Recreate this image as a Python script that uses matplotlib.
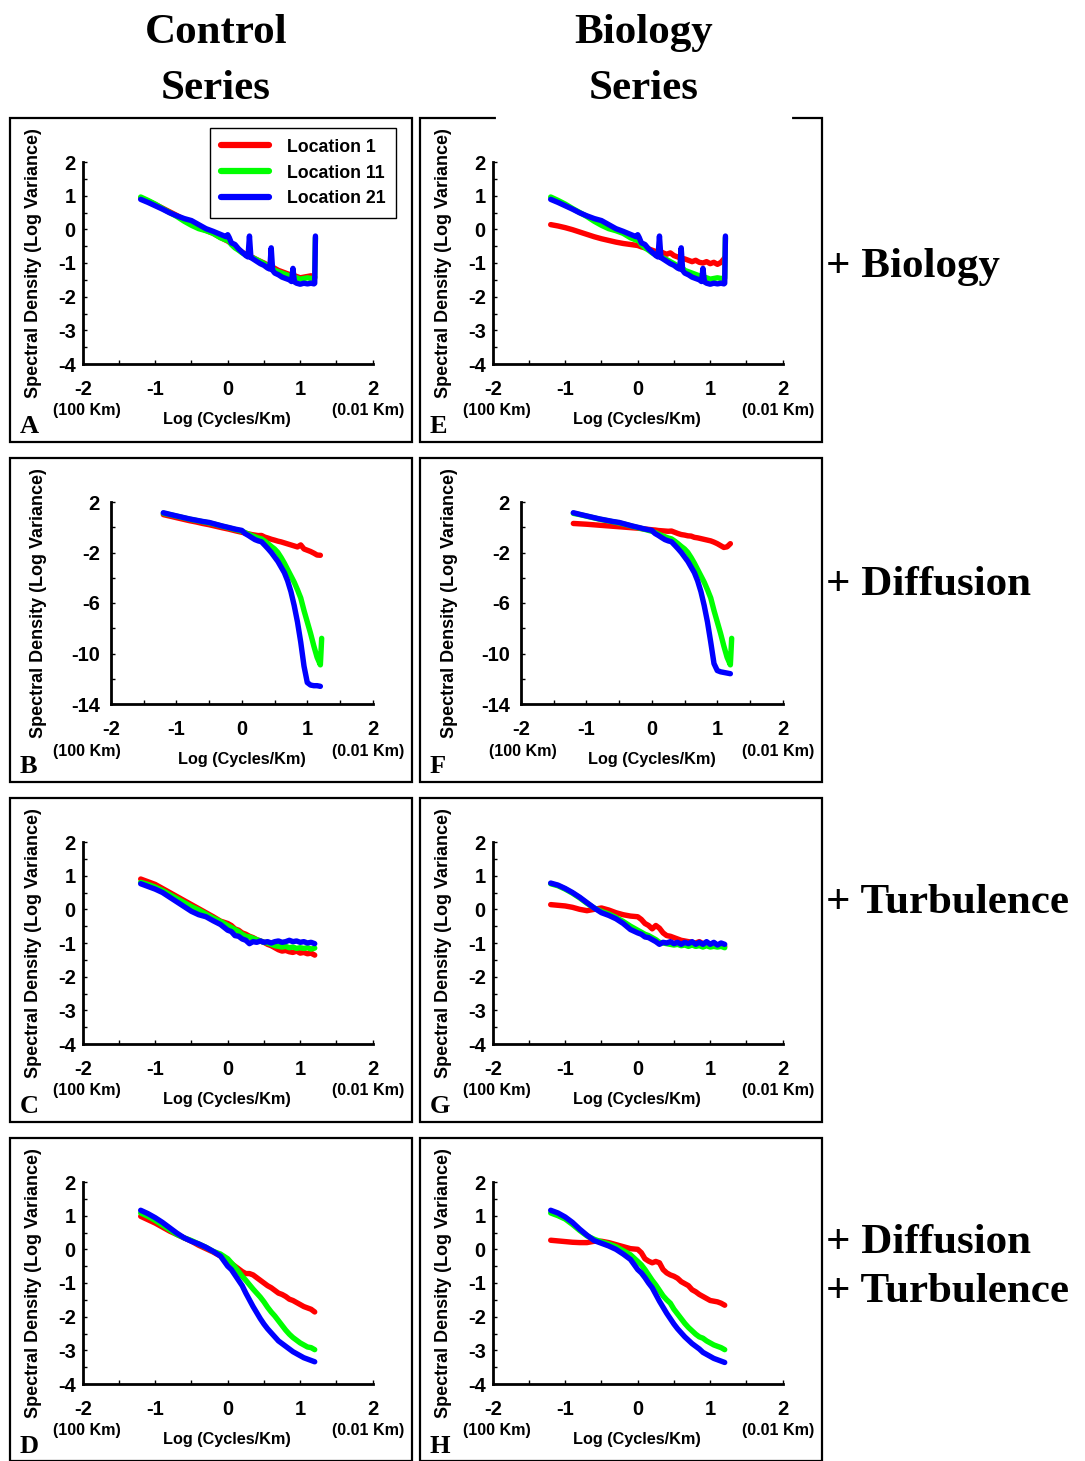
import numpy as np
import matplotlib
matplotlib.use('Agg')
import matplotlib.pyplot as plt
from matplotlib.patches import Rectangle
from matplotlib.lines import Line2D

plt.rcParams['font.family'] = ['Liberation Sans', 'DejaVu Sans']
plt.rcParams['font.weight'] = 'bold'
plt.rcParams['axes.unicode_minus'] = False

# frequency grid, log10(cycles/km)
X = [-1.2, -1.1, -1.0, -0.9, -0.8, -0.7, -0.6, -0.5, -0.4, -0.3, -0.2, -0.1,
     0.0, 0.05, 0.1, 0.15, 0.2, 0.25, 0.3, 0.35, 0.4, 0.45, 0.5, 0.55, 0.6,
     0.65, 0.7, 0.75, 0.8, 0.85, 0.9, 0.95, 1.0, 1.05, 1.1, 1.15, 1.2]
X_END = X + [1.22]
# grid with the narrow spikes of the biology-free runs
X_SPK = [-1.2, -1.1, -1.0, -0.9, -0.8, -0.7, -0.6, -0.5, -0.4, -0.3, -0.2, -0.1,
         -0.02, 0.0, 0.02, 0.05, 0.1, 0.15, 0.2, 0.25, 0.28, 0.3, 0.32, 0.35,
         0.4, 0.45, 0.5, 0.55, 0.58, 0.6, 0.62, 0.65, 0.7, 0.75, 0.8, 0.85,
         0.88, 0.9, 0.92, 0.95, 1.0, 1.05, 1.1, 1.15, 1.19, 1.2, 1.21]

series_labels = ['Location 1', 'Location 11', 'Location 21']

# A: control
a_red = [0.93, 0.84, 0.74, 0.63, 0.52, 0.41, 0.29, 0.16, 0.05, -0.03, -0.12, -0.24,
         -0.35, -0.42, -0.52, -0.60, -0.68, -0.74, -0.80, -0.84, -0.90, -0.95, -1.00,
         -1.06, -1.10, -1.16, -1.22, -1.26, -1.30, -1.34, -1.36, -1.40, -1.44, -1.42,
         -1.40, -1.38, -1.42]
a_green = [0.96, 0.86, 0.75, 0.62, 0.50, 0.38, 0.24, 0.12, 0.02, -0.04, -0.12, -0.25,
           -0.32, -0.30, -0.36, -0.45, -0.55, -0.62, -0.70, -0.76, -0.80, -0.78, -0.82,
           -0.85, -0.90, -0.96, -1.02, -1.08, -1.12, -1.10, -1.16, -1.22, -1.26, -1.30,
           -1.34, -1.38, -1.40, -1.40, -1.42, -1.44, -1.48, -1.46, -1.44, -1.46, -1.45,
           -1.45, -0.25]
a_blue = [0.89, 0.80, 0.70, 0.60, 0.49, 0.40, 0.32, 0.26, 0.14, 0.02, -0.06, -0.15,
          -0.22, -0.16, -0.24, -0.40, -0.45, -0.58, -0.68, -0.78, -0.82, -0.20, -0.84,
          -0.88, -0.95, -1.02, -1.07, -1.15, -1.18, -0.55, -1.22, -1.30, -1.35, -1.42,
          -1.46, -1.50, -1.55, -1.16, -1.56, -1.60, -1.63, -1.60, -1.62, -1.60, -1.62,
          -1.60, -0.20]

# E: + biology
e_red = [0.14, 0.10, 0.05, -0.01, -0.08, -0.15, -0.22, -0.28, -0.33, -0.38, -0.42, -0.45,
         -0.48, -0.52, -0.55, -0.58, -0.62, -0.66, -0.64, -0.70, -0.74, -0.70, -0.78,
         -0.82, -0.86, -0.88, -0.92, -0.96, -0.92, -0.98, -1.00, -0.96, -1.02, -0.98,
         -1.04, -0.98, -0.85]
e_green = a_green
e_blue = a_blue

# B: + diffusion
b_red = [1.00, 0.88, 0.76, 0.64, 0.52, 0.42, 0.30, 0.20, 0.08, -0.04, -0.15, -0.28,
         -0.40, -0.46, -0.52, -0.58, -0.62, -0.66, -0.65, -0.78, -0.86, -0.95, -1.02,
         -1.10, -1.16, -1.24, -1.32, -1.40, -1.48, -1.56, -1.40, -1.72, -1.82, -1.92,
         -2.05, -2.20, -2.22]
b_green = [1.10, 1.00, 0.88, 0.76, 0.64, 0.54, 0.44, 0.34, 0.22, 0.08, -0.05, -0.18,
           -0.32, -0.42, -0.55, -0.65, -0.75, -0.85, -0.92, -1.10, -1.30, -1.52, -1.72,
           -2.00, -2.40, -2.85, -3.35, -3.85, -4.35, -4.95, -5.60, -6.60, -7.50, -8.40,
           -9.40, -10.30, -10.90, -8.80]
b_blue = [1.15, 1.02, 0.90, 0.78, 0.66, 0.56, 0.46, 0.38, 0.24, 0.10, -0.02, -0.15,
          -0.25, -0.50, -0.65, -0.82, -0.98, -1.08, -1.15, -1.42, -1.70, -2.00, -2.35,
          -2.70, -3.15, -3.60, -4.25, -5.10, -6.20, -7.50, -9.10, -11.00, -12.30,
          -12.50, -12.55, -12.55, -12.60]

# F: + biology + diffusion
f_red = [0.30, 0.27, 0.24, 0.20, 0.16, 0.12, 0.08, 0.04, 0.00, -0.04, -0.08, -0.14,
         -0.20, -0.22, -0.26, -0.28, -0.30, -0.32, -0.30, -0.40, -0.50, -0.58, -0.62,
         -0.68, -0.70, -0.80, -0.84, -0.90, -0.96, -1.02, -1.08, -1.18, -1.30, -1.45,
         -1.60, -1.55, -1.30]
f_green = b_green
f_blue = [1.15, 1.02, 0.90, 0.78, 0.66, 0.56, 0.46, 0.38, 0.24, 0.10, -0.02, -0.15,
          -0.25, -0.50, -0.65, -0.82, -0.98, -1.08, -1.15, -1.42, -1.70, -2.00, -2.35,
          -2.70, -3.15, -3.60, -4.25, -5.10, -6.20, -7.50, -9.10, -10.80, -11.35,
          -11.45, -11.50, -11.55, -11.60]

# C: + turbulence
c_red = [0.90, 0.82, 0.74, 0.62, 0.50, 0.38, 0.26, 0.14, 0.02, -0.10, -0.22, -0.35,
         -0.42, -0.48, -0.58, -0.62, -0.70, -0.74, -0.80, -0.84, -0.90, -0.94, -0.98,
         -1.04, -1.08, -1.14, -1.20, -1.24, -1.22, -1.26, -1.28, -1.24, -1.30, -1.28,
         -1.32, -1.30, -1.36]
c_green = [0.80, 0.74, 0.66, 0.56, 0.44, 0.32, 0.20, 0.08, -0.02, -0.14, -0.26, -0.36,
           -0.48, -0.54, -0.60, -0.66, -0.74, -0.80, -0.82, -0.86, -0.90, -0.94, -0.98,
           -1.00, -1.04, -1.08, -1.10, -1.12, -1.10, -1.14, -1.12, -1.16, -1.14, -1.16,
           -1.14, -1.18, -1.15]
c_blue = [0.76, 0.68, 0.60, 0.50, 0.36, 0.22, 0.08, -0.06, -0.16, -0.22, -0.34, -0.45,
          -0.62, -0.66, -0.78, -0.80, -0.88, -0.92, -1.02, -0.96, -0.98, -0.94, -0.98,
          -0.96, -1.00, -0.96, -0.94, -0.98, -0.96, -0.92, -0.96, -0.94, -0.98, -0.96,
          -1.00, -0.98, -1.02]

# G: + biology + turbulence
g_red = [0.14, 0.12, 0.10, 0.06, 0.00, -0.04, 0.00, 0.04, -0.02, -0.10, -0.16, -0.20,
         -0.22, -0.30, -0.42, -0.48, -0.58, -0.48, -0.56, -0.70, -0.78, -0.80, -0.84,
         -0.88, -0.92, -0.94, -0.96, -0.98, -1.00, -0.96, -1.02, -1.00, -1.04, -1.02,
         -1.06, -1.04, -1.10]
g_green = [0.76, 0.70, 0.60, 0.48, 0.34, 0.18, 0.04, -0.06, -0.14, -0.24, -0.36, -0.50,
           -0.62, -0.68, -0.74, -0.78, -0.84, -0.90, -0.98, -1.00, -1.02, -1.04, -1.06,
           -1.04, -1.08, -1.06, -1.10, -1.06, -1.10, -1.08, -1.12, -1.08, -1.12, -1.10,
           -1.12, -1.10, -1.14]
g_blue = [0.78, 0.72, 0.62, 0.50, 0.36, 0.20, 0.04, -0.10, -0.18, -0.28, -0.42, -0.60,
          -0.70, -0.74, -0.82, -0.84, -0.90, -0.96, -1.04, -0.98, -1.00, -0.96, -1.02,
          -0.98, -1.04, -0.98, -1.02, -0.96, -1.04, -0.98, -1.04, -0.96, -1.04, -0.98,
          -1.06, -1.00, -1.04]

# D: + diffusion + turbulence
d_red = [0.98, 0.88, 0.78, 0.66, 0.54, 0.44, 0.34, 0.24, 0.12, 0.02, -0.08, -0.20,
         -0.35, -0.42, -0.50, -0.58, -0.66, -0.72, -0.72, -0.76, -0.84, -0.92, -1.00,
         -1.08, -1.14, -1.22, -1.30, -1.34, -1.40, -1.48, -1.52, -1.58, -1.64, -1.70,
         -1.74, -1.78, -1.86]
d_green = [1.08, 0.98, 0.86, 0.72, 0.58, 0.44, 0.34, 0.26, 0.16, 0.06, -0.06, -0.14,
           -0.28, -0.40, -0.52, -0.66, -0.80, -0.92, -1.05, -1.18, -1.30, -1.42, -1.56,
           -1.72, -1.86, -1.98, -2.12, -2.26, -2.40, -2.52, -2.62, -2.70, -2.78, -2.84,
           -2.90, -2.92, -2.98]
d_blue = [1.16, 1.06, 0.94, 0.80, 0.64, 0.48, 0.34, 0.24, 0.16, 0.06, -0.06, -0.20,
          -0.50, -0.60, -0.76, -0.92, -1.08, -1.30, -1.50, -1.70, -1.88, -2.06, -2.22,
          -2.36, -2.48, -2.60, -2.72, -2.80, -2.88, -2.96, -3.04, -3.10, -3.16, -3.22,
          -3.26, -3.30, -3.34]

# H: + biology + diffusion + turbulence
h_red = [0.27, 0.25, 0.23, 0.21, 0.20, 0.20, 0.24, 0.24, 0.20, 0.14, 0.08, 0.02,
         0.00, -0.10, -0.28, -0.35, -0.40, -0.36, -0.40, -0.60, -0.70, -0.76, -0.80,
         -0.86, -0.96, -1.02, -1.08, -1.20, -1.26, -1.34, -1.40, -1.46, -1.52, -1.54,
         -1.56, -1.60, -1.66]
h_green = [1.08, 1.00, 0.90, 0.74, 0.56, 0.40, 0.30, 0.22, 0.16, 0.08, -0.04, -0.16,
           -0.36, -0.46, -0.60, -0.76, -0.92, -1.06, -1.22, -1.38, -1.50, -1.60, -1.78,
           -1.92, -2.06, -2.20, -2.32, -2.42, -2.52, -2.60, -2.64, -2.72, -2.78, -2.84,
           -2.88, -2.92, -2.98]
h_blue = [1.16, 1.08, 0.96, 0.80, 0.60, 0.42, 0.26, 0.18, 0.10, 0.00, -0.14, -0.30,
          -0.60, -0.70, -0.84, -1.00, -1.14, -1.34, -1.54, -1.72, -1.90, -2.06, -2.22,
          -2.36, -2.48, -2.60, -2.70, -2.80, -2.88, -2.96, -3.06, -3.12, -3.18, -3.24,
          -3.28, -3.32, -3.36]

row_labels = ['+ Biology', '+ Diffusion', '+ Turbulence', '+ Diffusion\n+ Turbulence']
col_titles = ['Control\nSeries', 'Biology\nSeries']

W, H = 1085, 1461
fig = plt.figure(figsize=(W / 100, H / 100), dpi=100)

box_x = [10, 420]
box_y = [118, 458, 798, 1138]
colors = ['#ff0000', '#00ff00', '#0000ff']

# letter, col, row, red, green, blue, wide y-range?
panels = [
    ('A', 0, 0, (X, a_red), (X_SPK, a_green), (X_SPK, a_blue), False),
    ('B', 0, 1, (X, b_red), (X_END, b_green), (X, b_blue), True),
    ('C', 0, 2, (X, c_red), (X, c_green), (X, c_blue), False),
    ('D', 0, 3, (X, d_red), (X, d_green), (X, d_blue), False),
    ('E', 1, 0, (X, e_red), (X_SPK, e_green), (X_SPK, e_blue), False),
    ('F', 1, 1, (X, f_red), (X_END, f_green), (X, f_blue), True),
    ('G', 1, 2, (X, g_red), (X, g_green), (X, g_blue), False),
    ('H', 1, 3, (X, h_red), (X, h_green), (X, h_blue), False),
]

serif = ['Liberation Serif', 'DejaVu Serif']

for letter, col, row, red, green, blue, wide in panels:
    bx, by = box_x[col], box_y[row]
    bh = 323 if row == 3 else 324
    fig.add_artist(Rectangle((bx / W, 1 - (by + bh) / H), 402 / W, bh / H,
                             transform=fig.transFigure, fill=False,
                             lw=1.6, ec='black'))
    left = bx + (101 if wide else 72.7)
    right = bx + 362.7
    top, bottom = by + 44, by + 246
    ax = fig.add_axes([left / W, 1 - bottom / H, (right - left) / W, (bottom - top) / H])

    lines = []
    for (xs, ys), c in zip([red, green, blue], colors):
        ln, = ax.plot(xs, ys, color=c, lw=3.9, solid_capstyle='round',
                      solid_joinstyle='round', clip_on=False)
        lines.append(ln)

    ax.set_xlim(-2, 2)
    ax.set_xticks([-2, -1, 0, 1, 2])
    ax.set_xticks([-1.5, -0.5, 0.5, 1.5], minor=True)
    if wide:
        ax.set_ylim(-14, 2)
        ax.set_yticks([2, -2, -6, -10, -14])
        ax.set_yticks([0, -4, -8, -12], minor=True)
        ypad = 8
    else:
        ax.set_ylim(-4, 2)
        ax.set_yticks([2, 1, 0, -1, -2, -3, -4])
        ax.set_yticks([1.5, 0.5, -0.5, -1.5, -2.5, -3.5], minor=True)
        ypad = 5
    for s in ['top', 'right']:
        ax.spines[s].set_visible(False)
    for s in ['left', 'bottom']:
        ax.spines[s].set_linewidth(2)
    ax.tick_params(which='both', direction='in', width=1, length=3)
    ax.tick_params(axis='x', which='major', labelsize=14.5, pad=11.5)
    ax.tick_params(axis='y', which='major', labelsize=14.5, pad=ypad)

    # y label
    fig.text((bx + (29 if wide else 24)) / W, 1 - (top + bottom) / 2 / H,
             'Spectral Density (Log Variance)', rotation=90, fontsize=13,
             ha='center', va='center')
    # x label and scale notes
    xl_off = 231.7 if wide else 217
    fig.text((bx + xl_off) / W, 1 - (by + 301.7) / H, 'Log (Cycles/Km)',
             fontsize=11.7, ha='center', va='center')
    km_off = 102.5 if letter == 'F' else 76.7
    fig.text((bx + km_off) / W, 1 - (by + 293) / H, '(100 Km)',
             fontsize=11.6, ha='center', va='center')
    fig.text((bx + 358.3) / W, 1 - (by + 293) / H, '(0.01 Km)',
             fontsize=11.6, ha='center', va='center')
    fig.text((bx + 10) / W, 1 - (by + 315) / H, letter, family=serif,
             fontsize=19, fontweight='bold', ha='left', va='baseline')

    if letter == 'A':
        leg = ax.legend(lines, series_labels, loc='upper right',
                        bbox_to_anchor=(396 / W, 1 - 128 / H),
                        bbox_transform=fig.transFigure, borderaxespad=0,
                        fontsize=12.8, handlelength=2.7, handletextpad=1.0,
                        labelspacing=0.5, borderpad=0.6, fancybox=False,
                        edgecolor='black', framealpha=1)
        leg.get_frame().set_linewidth(1)
        for h in leg.get_lines():
            h.set_linewidth(4.5)

# gap in the top border of the biology column
fig.add_artist(Line2D([498 / W, 790 / W], [1 - 118 / H, 1 - 118 / H],
                      transform=fig.transFigure, color='white', lw=3))

# column titles
for cx, t in zip([216, 644], col_titles):
    first, second = t.split('\n')
    fig.text(cx / W, 1 - 43 / H, first, family=serif, fontsize=31,
             fontweight='bold', ha='center', va='baseline')
    fig.text(cx / W, 1 - 99 / H, second, family=serif, fontsize=31,
             fontweight='bold', ha='center', va='baseline')

# row annotations
row_base = [[277], [595], [913], [1253, 1302]]
for lab, bases in zip(row_labels, row_base):
    for part, yb in zip(lab.split('\n'), bases):
        fig.text(826 / W, 1 - yb / H, part, family=serif, fontsize=31,
                 fontweight='bold', ha='left', va='baseline')

fig.savefig('out.png', dpi=100)
